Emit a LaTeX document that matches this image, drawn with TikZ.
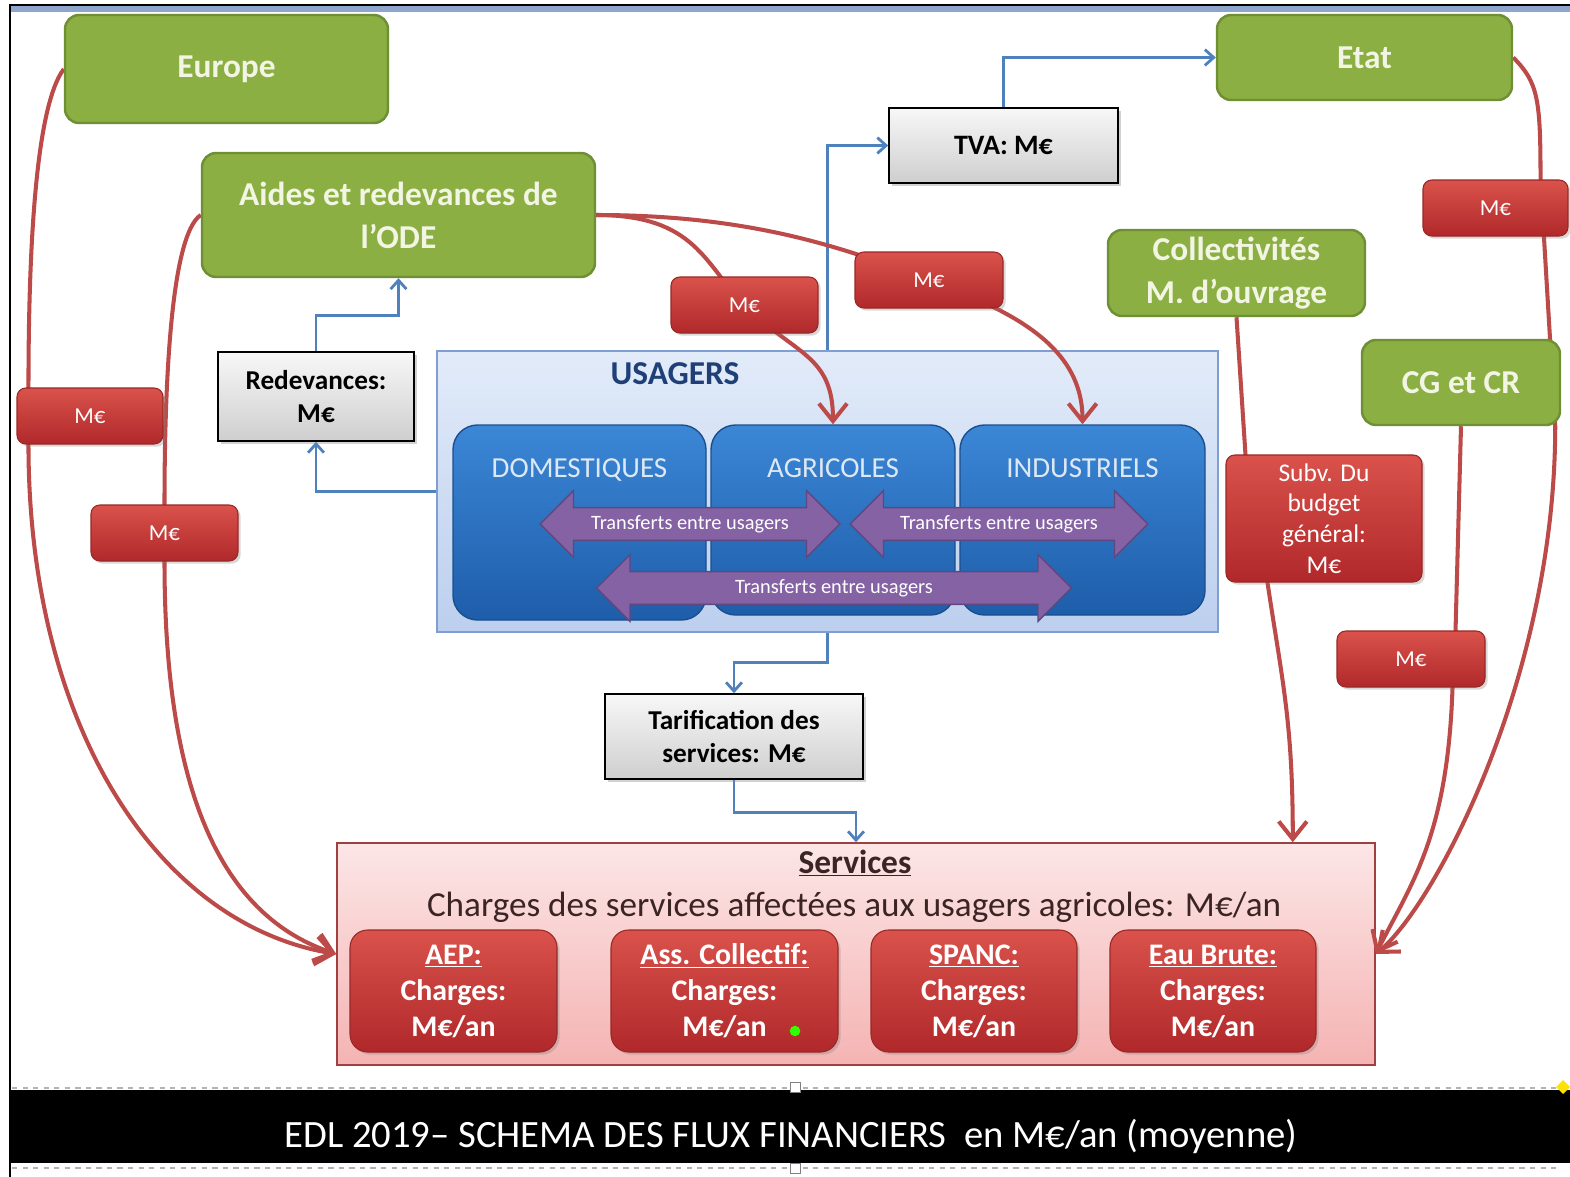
\documentclass[tikz,border=0pt]{standalone}
\usepackage{fontspec}
\setmainfont{Carlito}
\usetikzlibrary{calc,fit,shapes.arrows,arrows.meta,shadows}
\definecolor{grnf}{HTML}{8BAF42}
\definecolor{grnd}{HTML}{6E8F34}
\definecolor{grnt}{HTML}{F3F5E4}
\definecolor{rdt}{HTML}{DA524B}
\definecolor{rdb}{HTML}{B0282A}
\definecolor{rdd}{HTML}{982826}
\definecolor{rdl}{HTML}{BC4A48}
\definecolor{blul}{HTML}{4F81BD}
\definecolor{blut}{HTML}{3B87D6}
\definecolor{blub}{HTML}{1E5DAA}
\definecolor{blud}{HTML}{1A4F8F}
\definecolor{bluw}{HTML}{DDE8F5}
\definecolor{usat}{HTML}{E2EBF9}
\definecolor{usab}{HTML}{BCCFEE}
\definecolor{usad}{HTML}{7F9FD3}
\definecolor{usagt}{HTML}{1F3F77}
\definecolor{prpf}{HTML}{8462A3}
\definecolor{prpd}{HTML}{5F4880}
\definecolor{srvt}{HTML}{FCE6E6}
\definecolor{srvb}{HTML}{F5B3B3}
\definecolor{srvd}{HTML}{A04040}
\definecolor{srvx}{HTML}{3B2424}
\definecolor{frmb}{HTML}{8EA6CC}
\pgfdeclarelayer{bg}
\pgfdeclarelayer{edges}
\pgfsetlayers{bg,edges,main}
\newcommand{\fsz}[2]{\fontsize{#1}{#2}\selectfont}
\begin{document}
\begin{tikzpicture}[x=0.02cm, y=-0.02cm,
grn/.style={draw=grnd, fill=grnf, line width=1.4pt, rounded corners=8pt, inner sep=0pt},
grt/.style={text=grnt, font=\fsz{19}{24.5}\bfseries, align=center},
gry/.style={draw=black, line width=0.9pt, top color=gray!6, bottom color=gray!38, inner sep=0pt, drop shadow={opacity=0.35, shadow xshift=1.5pt, shadow yshift=-1.5pt}},
gyt/.style={font=\fsz{15.5}{18.5}\bfseries, align=center},
mt/.style={draw=rdd, line width=0.6pt, top color=rdt, bottom color=rdb, rounded corners=5pt, inner sep=0pt, drop shadow={opacity=0.3, shadow xshift=1.5pt, shadow yshift=-1.5pt}},
mtt/.style={text=white, font=\fsz{13}{17.5}, align=center},
srv/.style={mt, rounded corners=10pt},
svt/.style={text=white, font=\fsz{17}{20.5}\bfseries, align=center},
blu/.style={draw=blud, line width=0.8pt, top color=blut, bottom color=blub, rounded corners=14pt, inner sep=0pt},
ulab/.style={text=bluw, font=\fsz{16.5}{20}, anchor=base},
prp/.style={double arrow, double arrow head extend=0.34cm, inner xsep=2pt, inner ysep=0.14cm, fill=prpf, draw=prpd, line width=0.8pt, text=white, font=\fsz{11.6}{13}},
flr/.style={draw=rdl, line width=2.3pt, -{Straight Barb[length=10pt,width=16pt]}},
flb/.style={draw=blul, line width=1.6pt, -{Straight Barb[length=5pt,width=9pt]}},
]
\useasboundingbox (0,0) rectangle (1570,1177);
\begin{pgfonlayer}{bg}
\fill[white] (0,0) rectangle (1570,1177);
\fill[frmb] (10,5) rectangle (1570,12);
\draw[line width=1pt] (10,1177) -- (10,5) -- (1570,5);
\node[fit={(437,351) (1218,632)}, inner sep=0pt, draw=usad, line width=0.9pt, top color=usat, bottom color=usab] (usagers) {};
\node[fit={(337,843) (1375,1065)}, inner sep=0pt, draw=srvd, line width=0.9pt, top color=srvt, bottom color=srvb] (services) {};
\end{pgfonlayer}

\node[grn, fit={(65,15) (388,123)}, label={[grt]center:Europe}] (europe) {};
\node[grn, fit={(202,153) (595,277)}, label={[grt]center:{Aides et redevances de\\l’ODE}}] (aides) {};
\node[grn, fit={(1217,15) (1512,100)}, label={[grt]center:Etat}] (etat) {};
\node[grn, fit={(1108,230) (1365,316)}, label={[grt]center:{Collectivités\\M. d’ouvrage}}] (collec) {};
\node[grn, fit={(1362,340) (1560,425)}, label={[grt]center:CG et CR}] (cgcr) {};

\node[gry, fit={(889,108) (1118,183)}, label={[gyt, font=\fsz{16}{19}\bfseries]center:{TVA: M€}}] (tva) {};
\node[gry, fit={(218,352) (414,441)}, label={[gyt]center:{Redevances:\\M€}}] (redev) {};
\node[gry, fit={(605,694) (863,779)}, label={[gyt]center:{Tarification des\\services: M€}}] (tarif) {};

\node[font=\fsz{19}{22}\bfseries, text=usagt] (tusag) at (675,374) {USAGERS};
\node[blu, fit={(453,425) (706,620)}] (dom) {};
\node[blu, fit={(711,425) (955,615)}] (agri) {};
\node[blu, fit={(960,425) (1205,615)}] (indu) {};
\node[ulab] (tdom) at ($(dom.north)+(0,53)$) {DOMESTIQUES};
\node[ulab] (tagri) at ($(agri.north)+(0,53)$) {AGRICOLES};
\node[ulab] (tindu) at ($(indu.north)+(0,53)$) {INDUSTRIELS};
\node[prp, minimum height=6cm] (tr1) at (690,524) {Transferts entre usagers};
\node[prp, minimum height=5.96cm] (tr2) at (999,524) {Transferts entre usagers};
\node[prp, minimum height=9.5cm] (tr3) at (834,588) {Transferts entre usagers};

\node[mt, fit={(17,388) (163,444)}, label={[mtt]center:M€}] (lm1) {};
\node[mt, fit={(91,505) (238,561)}, label={[mtt]center:M€}] (lm2) {};
\node[mt, fit={(671,277) (818,333)}, label={[mtt]center:M€}] (mm1) {};
\node[mt, fit={(855,252) (1003,308)}, label={[mtt]center:M€}] (mm2) {};
\node[mt, fit={(1423,180) (1568,236)}, label={[mtt]center:M€}] (mrt) {};
\node[mt, fit={(1226,455) (1422,582)}, label={[mtt, font=\fsz{14.5}{17.5}]center:{Subv. Du\\budget\\général:\\M€}}] (subv) {};
\node[mt, fit={(1337,631) (1485,687)}, label={[mtt]center:M€}] (mr2) {};

\node[anchor=base, text=srvx, font=\fsz{19}{22}\bfseries] (tserv) at (855,873) {\underline{Services}};
\node[anchor=base, text=srvx, font=\fsz{20}{22}] (tcharg) at (854,916) {Charges des services affectées aux usagers agricoles: M€/an};
\node[srv, fit={(350,930) (557,1052)}, label={[svt]center:{\underline{AEP:}\\Charges:\\M€/an}}] (aep) {};
\node[srv, fit={(611,930) (838,1052)}, label={[svt]center:{\underline{Ass. Collectif:}\\Charges:\\M€/an}}] (assc) {};
\node[srv, fit={(871,930) (1077,1052)}, label={[svt]center:{\underline{SPANC:}\\Charges:\\M€/an}}] (spanc) {};
\node[srv, fit={(1110,930) (1316,1052)}, label={[svt]center:{\underline{Eau Brute:}\\Charges:\\M€/an}}] (eaub) {};
\fill[green!75!lime] (795,1031) circle[radius=3pt];

\fill[black] (10,1090) rectangle (1570,1163);
\draw[gray!60, dashed, line width=0.8pt] (12,1088) -- (1560,1088) (12,1168) -- (1560,1168);
\draw[gray, fill=white] (790,1082) rectangle (800,1092) (790,1163) rectangle (800,1173);
\fill[yellow!85!orange] (1563,1080) -- (1570,1087) -- (1563,1094) -- (1556,1087) -- cycle;
\node[anchor=base, text=white, font=\fsz{22}{26}] (titre) at (791,1147) {EDL 2019– SCHEMA DES FLUX FINANCIERS \ en M€/an (moyenne)};

\begin{pgfonlayer}{edges}
\draw[flb] (usagers.west) -| (redev.south);
\draw[flb] (redev.north) -- ++(0,-36) -| (aides.south);
\draw[flb] (usagers.north) |- (tva.west);
\draw[flb] (tva.north) |- (etat.west);
\draw[flb] (usagers.south) -- ++(0,30) -| (tarif.north);
\draw[flb] (tarif.south) -- ++(0,33) -| (services.north);

\draw[flr] (europe.west) .. controls +(-30,40) and +(0,-120) .. ($(lm1.north west)+(12,0)$) -- ($(lm1.south west)+(12,0)$) .. controls +(0,280) and +(-180,-30) .. (services.west);
\draw[flr] (aides.west) .. controls +(-30,20) and +(0,-120) .. (lm2.north) -- (lm2.south) .. controls +(0,220) and +(-120,-40) .. (services.west);
\draw[flr] (aides.east) .. controls +(100,0) and +(-40,-40) .. (mm1.center) .. controls +(50,50) and +(0,-70) .. (agri.north);
\draw[flr] (aides.east) .. controls +(160,0) and +(-80,-30) .. (mm2.center) .. controls +(80,30) and +(0,-80) .. (indu.north);
\draw[flr] (etat.east) .. controls +(25,25) and +(0,-80) .. ($(mrt.north east)+(-28,0)$) -- ($(cgcr.south east)+(-6,0)$) .. controls +(0,250) and +(60,-50) .. (services.east);
\draw[flr] (cgcr.south) -- ($(mr2.north east)+(-30,0)$) -- ($(mr2.south east)+(-33,0)$) .. controls +(-5,150) and +(35,-70) .. (services.east);
\draw[flr] (collec.south) -- ($(subv.north west)+(20,0)$) -- ($(subv.south west)+(42,0)$) .. controls +(15,100) and +(0,-120) .. ($(services.north east)+(-83,0)$);
\end{pgfonlayer}
\end{tikzpicture}
\end{document}
